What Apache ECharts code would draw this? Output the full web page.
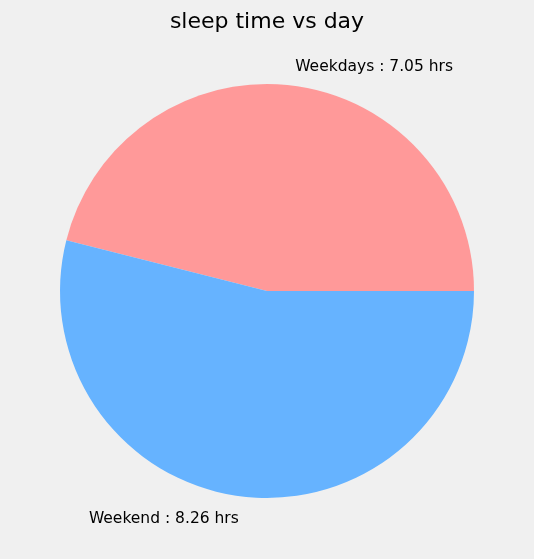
<!DOCTYPE html>
<html>
<head>
<meta charset="utf-8">
<script src="https://cdn.jsdelivr.net/npm/echarts@6/dist/echarts.min.js"></script>
<style>
html,body{margin:0;padding:0;background:#f0f0f0;}
#chart{width:534px;height:559px;}
</style>
</head>
<body>
<div id="chart"></div>
<script>
const categories = ['Weekdays', 'Weekend'];
const values = [7.05, 8.26];
const colors = ['#ff9999', '#66b3ff'];
const titleText = 'sleep time vs day';

const chart = echarts.init(document.getElementById('chart'), null, {renderer: 'canvas'});
const R = 207;
chart.setOption({
  backgroundColor: '#f0f0f0',
  animation: false,
  title: {
    text: titleText,
    left: 'center',
    top: 6,
    textStyle: {fontFamily: 'DejaVu Sans', fontSize: 22, fontWeight: 'normal', color: '#000'}
  },
  series: [{
    type: 'pie',
    center: [267, 291],
    radius: [0, R],
    startAngle: 0,
    clockwise: false,
    avoidLabelOverlap: false,
    data: categories.map((c, i) => ({name: c, value: values[i], itemStyle: {color: colors[i]}})),
    label: {
      show: true,
      position: 'outside',
      distanceToLabelLine: 0,
      offset: [0, 2],
      formatter: p => p.name + ' : ' + p.value.toFixed(2) + ' hrs',
      fontFamily: 'DejaVu Sans',
      fontSize: 15.5,
      color: '#000'
    },
    labelLine: {show: false, length: R * 0.1, length2: 0},
    emphasis: {disabled: true}
  }]
});
</script>
</body>
</html>
